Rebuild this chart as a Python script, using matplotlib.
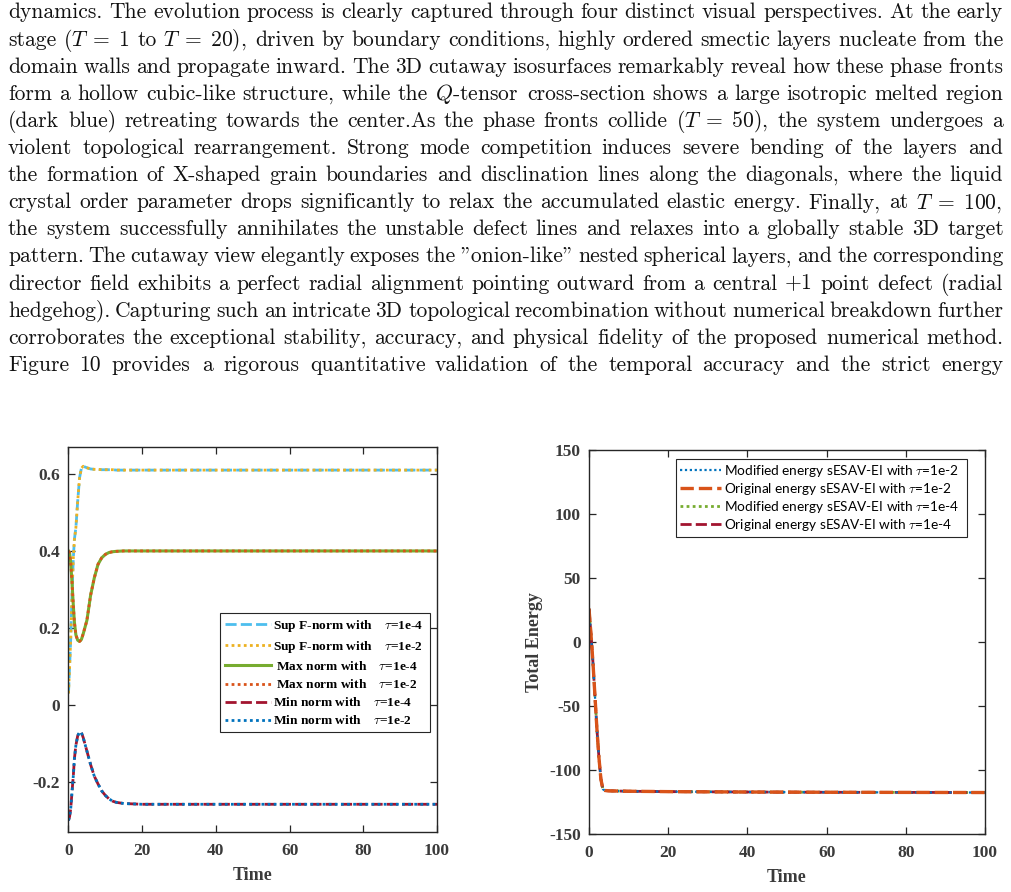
import matplotlib
matplotlib.use("Agg")
import matplotlib.pyplot as plt
import numpy as np

plt.rcParams['mathtext.fontset'] = 'cm'
plt.rcParams['axes.unicode_minus'] = False

# ---------------- paragraph text ----------------
para_lines = [
    "dynamics. The evolution process is clearly captured through four distinct visual perspectives. At the early",
    r"stage ($T\;=\;1$ to $T\;=\;20$), driven by boundary conditions, highly ordered smectic layers nucleate from the",
    "domain walls and propagate inward. The 3D cutaway isosurfaces remarkably reveal how these phase fronts",
    "form a hollow cubic-like structure, while the $Q$-tensor cross-section shows a large isotropic melted region",
    r"(dark blue) retreating towards the center.As the phase fronts collide ($T\;=\;50$), the system undergoes a",
    "violent topological rearrangement. Strong mode competition induces severe bending of the layers and",
    "the formation of X-shaped grain boundaries and disclination lines along the diagonals, where the liquid",
    r"crystal order parameter drops significantly to relax the accumulated elastic energy. Finally, at $T\;=\;100$,",
    "the system successfully annihilates the unstable defect lines and relaxes into a globally stable 3D target",
    "pattern. The cutaway view elegantly exposes the \"onion-like\" nested spherical layers, and the corresponding",
    "director field exhibits a perfect radial alignment pointing outward from a central $+1$ point defect (radial",
    "hedgehog). Capturing such an intricate 3D topological recombination without numerical breakdown further",
    "corroborates the exceptional stability, accuracy, and physical fidelity of the proposed numerical method.",
    "Figure 10 provides a rigorous quantitative validation of the temporal accuracy and the strict energy",
]

# ---------------- left chart data ----------------
t_left = [0, 0.3, 0.6, 1.0, 1.3, 1.6, 2.0, 2.5, 3.0, 3.5, 4.0, 5.0, 6.0, 7.0, 8.0, 9.0,
          10.0, 11.0, 12.0, 13.0, 15.0, 20.0, 40.0, 60.0, 80.0, 100.0]
sup_fnorm_1e4 = [0.03, 0.10, 0.17, 0.30, 0.38, 0.43, 0.46, 0.53, 0.59, 0.615, 0.62, 0.616, 0.613,
                 0.612, 0.612, 0.611, 0.611, 0.611, 0.611, 0.61, 0.61, 0.61, 0.61, 0.61, 0.61, 0.61]
sup_fnorm_1e2 = [0.03, 0.10, 0.17, 0.30, 0.38, 0.43, 0.46, 0.53, 0.59, 0.615, 0.62, 0.616, 0.613,
                 0.612, 0.612, 0.611, 0.611, 0.611, 0.611, 0.61, 0.61, 0.61, 0.61, 0.61, 0.61, 0.61]
max_norm_1e4 = [0.40, 0.395, 0.37, 0.31, 0.26, 0.215, 0.182, 0.168, 0.165, 0.17, 0.185, 0.22, 0.285,
                0.33, 0.365, 0.382, 0.391, 0.396, 0.398, 0.399, 0.40, 0.40, 0.40, 0.40, 0.40, 0.40]
max_norm_1e2 = [0.40, 0.395, 0.37, 0.31, 0.26, 0.215, 0.182, 0.168, 0.165, 0.17, 0.185, 0.22, 0.285,
                0.33, 0.365, 0.382, 0.391, 0.396, 0.398, 0.399, 0.40, 0.40, 0.40, 0.40, 0.40, 0.40]
min_norm_1e4 = [-0.30, -0.29, -0.27, -0.22, -0.185, -0.14, -0.105, -0.08, -0.07, -0.072, -0.085,
                -0.12, -0.155, -0.185, -0.205, -0.223, -0.235, -0.244, -0.25, -0.253, -0.256,
                -0.258, -0.258, -0.258, -0.258, -0.258]
min_norm_1e2 = [-0.30, -0.29, -0.27, -0.22, -0.185, -0.14, -0.105, -0.08, -0.07, -0.072, -0.085,
                -0.12, -0.155, -0.185, -0.205, -0.223, -0.235, -0.244, -0.25, -0.253, -0.256,
                -0.258, -0.258, -0.258, -0.258, -0.258]
left_labels = [r"Sup F-norm with    $\tau$=1e-4", r"Sup F-norm with    $\tau$=1e-2",
               r" Max norm with    $\tau$=1e-4", r" Max norm with    $\tau$=1e-2",
               r"Min norm with    $\tau$=1e-4", r"Min norm with    $\tau$=1e-2"]
left_xticks = [0, 20, 40, 60, 80, 100]
left_yticks = [-0.2, 0, 0.2, 0.4, 0.6]
left_yticklabels = ["-0.2", "0", "0.2", "0.4", "0.6"]

# ---------------- right chart data ----------------
t_energy = [0, 0.5, 1.0, 1.5, 2.0, 2.5, 3.0, 3.5, 4.0, 5.0, 10, 20, 40, 60, 80, 100]
mod_energy_1e2 = [26, 6, -16, -42, -68, -90, -107, -115, -116, -116.3, -116.6, -116.9, -117.2,
                  -117.4, -117.5, -117.6]
orig_energy_1e2 = [26, 6, -16, -42, -68, -90, -107, -115, -116, -116.3, -116.6, -116.9, -117.2,
                   -117.4, -117.5, -117.6]
mod_energy_1e4 = [26, 6, -16, -42, -68, -90, -107, -115, -116, -116.3, -116.6, -116.9, -117.2,
                  -117.4, -117.5, -117.6]
orig_energy_1e4 = [26, 6, -16, -42, -68, -90, -107, -115, -116, -116.3, -116.6, -116.9, -117.2,
                   -117.4, -117.5, -117.6]
right_labels = [r"Modified energy sESAV-EI with $\tau$=1e-2",
                r"Original energy sESAV-EI with $\tau$=1e-2",
                r"Modified energy sESAV-EI with $\tau$=1e-4",
                r"Original energy sESAV-EI with $\tau$=1e-4"]
right_xticks = [0, 20, 40, 60, 80, 100]
right_yticks = [-150, -100, -50, 0, 50, 100, 150]

# ---------------- figure ----------------
W, H = 1012, 892
fig = plt.figure(figsize=(W / 100, H / 100), dpi=100)
renderer = fig.canvas.get_renderer()

# justified paragraph: fit font size so typical inter-word space ~0.36 em
x_left, x_right = 8.0, 1003.0
base0, dy = 18.5, 27.1
fs0 = 10.0
para_font = ['cmr10', 'DejaVu Serif']
all_texts, all_widths = [], []
for line in para_lines:
    words = line.split(" ")
    texts, widths = [], []
    for w in words:
        t = fig.text(0, 0, w, fontsize=fs0, family=para_font,
                     ha='left', va='baseline', color='#111111')
        widths.append(t.get_window_extent(renderer=renderer).width)
        texts.append(t)
    all_texts.append(texts)
    all_widths.append(widths)

space_em = 0.36
fs_fit = []
for widths in all_widths:
    n = len(widths)
    per_pt = sum(widths) / fs0 + (n - 1) * space_em * 100 / 72
    fs_fit.append((x_right - x_left) / per_pt)
fs_para = float(np.median(fs_fit))

for i, (texts, widths) in enumerate(zip(all_texts, all_widths)):
    widths = [w * fs_para / fs0 for w in widths]
    gap = (x_right - x_left - sum(widths)) / (len(widths) - 1)
    x = x_left
    yb = 1 - (base0 + i * dy) / H
    for t, wd in zip(texts, widths):
        t.set_fontsize(fs_para)
        t.set_position((x / W, yb))
        x += wd + gap

tick_color = '#3a3a3a'
spine_color = '#262626'
serif_bold = dict(family='Liberation Serif', weight='bold')


def style_axes(ax):
    for s in ax.spines.values():
        s.set_color(spine_color)
        s.set_linewidth(1.0)
    ax.tick_params(direction='in', which='both', top=True, right=True, length=5,
                   width=0.9, color=spine_color, labelcolor=tick_color, labelsize=12.5)
    ax.tick_params(axis='x', pad=8)
    ax.tick_params(axis='y', pad=6)
    for lab in ax.get_xticklabels() + ax.get_yticklabels():
        lab.set_fontfamily('Liberation Serif')
        lab.set_fontweight('bold')


# ---- left axes ----
ax1 = fig.add_axes([68.5 / W, 1 - 832 / H, 368.5 / W, 385 / H])
ax1.plot(t_left, sup_fnorm_1e4, color='#4DBEEE', lw=2.0, dashes=(4, 1.5), label=left_labels[0])
ax1.plot(t_left, sup_fnorm_1e2, color='#EDB120', lw=2.0, dashes=(1, 1.2), label=left_labels[1])
ax1.plot(t_left, max_norm_1e4, color='#77AC30', lw=2.2, label=left_labels[2])
ax1.plot(t_left, max_norm_1e2, color='#D95319', lw=2.0, dashes=(1, 1.2), label=left_labels[3])
ax1.plot(t_left, min_norm_1e4, color='#A2142F', lw=2.0, dashes=(4, 1.5), label=left_labels[4])
ax1.plot(t_left, min_norm_1e2, color='#0072BD', lw=2.0, dashes=(1, 1.2), label=left_labels[5])
ax1.set_xlim(0, 100)
ax1.set_ylim(-0.33, 0.67)
ax1.set_xticks(left_xticks)
ax1.set_yticks(left_yticks)
ax1.set_yticklabels(left_yticklabels)
style_axes(ax1)
ax1.set_xlabel("Time", fontsize=13, color=tick_color, labelpad=6, **serif_bold)
leg1 = ax1.legend(loc='lower left', bbox_to_anchor=((220 - 68.5) / 368.5, (832 - 732) / 385,
                                                      (430 - 220) / 368.5, (732 - 618) / 385),
                  mode='expand', prop=dict(family='Liberation Serif', weight='bold', size=9.6),
                  handlelength=3.5, handletextpad=0.15, labelspacing=0.38, borderaxespad=0,
                  borderpad=0.35, fancybox=False, edgecolor='#262626', framealpha=1)
leg1.get_frame().set_linewidth(0.8)

# ---- right axes ----
ax2 = fig.add_axes([589 / W, 1 - 834 / H, 396 / W, 384 / H])
l_m4, = ax2.plot(t_energy, mod_energy_1e4, color='#77AC30', lw=2.0, dashes=(1, 1.2))
l_o4, = ax2.plot(t_energy, orig_energy_1e4, color='#A2142F', lw=2.0, dashes=(4, 1.5))
l_m2, = ax2.plot(t_energy, mod_energy_1e2, color='#0072BD', lw=1.6, dashes=(1, 1.2))
l_o2, = ax2.plot(t_energy, orig_energy_1e2, color='#D95319', lw=2.4, dashes=(4, 1.5))
ax2.set_xlim(0, 100)
ax2.set_ylim(-150, 150)
ax2.set_xticks(right_xticks)
ax2.set_yticks(right_yticks)
style_axes(ax2)
ax2.set_xlabel("Time", fontsize=13, color=tick_color, labelpad=6, **serif_bold)
ax2.set_ylabel("Total Energy", fontsize=13, color=tick_color, labelpad=4, **serif_bold)
leg2 = ax2.legend([l_m2, l_o2, l_m4, l_o4], right_labels,
                  loc='lower left', bbox_to_anchor=((676 - 589) / 396, (834 - 537) / 384,
                                                      (967 - 676) / 396, (537 - 460) / 384),
                  mode='expand', prop=dict(family='Lato', size=9.8),
                  handlelength=3.0, handletextpad=0.25, labelspacing=0.15, borderaxespad=0,
                  borderpad=0.3, fancybox=False, edgecolor='#262626', framealpha=1)
leg2.get_frame().set_linewidth(0.8)

fig.savefig("out.png", dpi=100)
